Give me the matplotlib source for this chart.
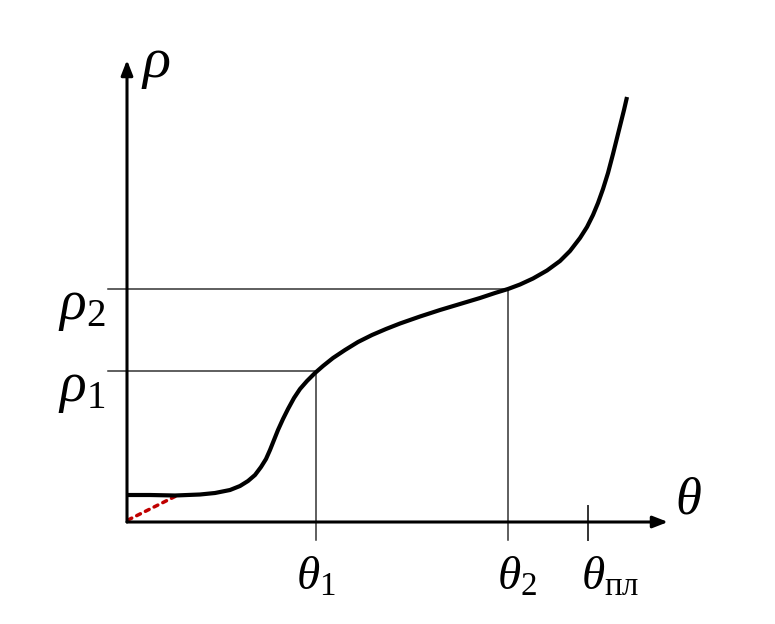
import matplotlib.pyplot as plt

plt.rcParams['mathtext.fontset'] = 'custom'
plt.rcParams['mathtext.rm'] = 'Liberation Serif'
plt.rcParams['mathtext.it'] = 'Liberation Serif:italic'

# curve rho(theta)
theta = [0.00, 0.23, 0.48, 0.73, 0.88, 1.03, 1.13, 1.21, 1.28, 1.34, 1.39,
         1.43, 1.47, 1.51, 1.56, 1.61, 1.67, 1.73, 1.80, 1.88, 1.96, 2.06,
         2.18, 2.31, 2.45, 2.59, 2.73, 2.93, 3.13, 3.33, 3.53, 3.68, 3.81,
         3.93, 4.06, 4.20, 4.33, 4.43, 4.53, 4.60, 4.66, 4.71, 4.76, 4.81,
         4.86, 4.90, 4.93, 4.97, 5.00]
rho = [0.270, 0.270, 0.265, 0.275, 0.290, 0.320, 0.360, 0.410, 0.470, 0.550,
       0.630, 0.720, 0.820, 0.920, 1.030, 1.130, 1.240, 1.330, 1.410, 1.490,
       1.560, 1.640, 1.720, 1.800, 1.870, 1.930, 1.985, 2.055, 2.120, 2.180,
       2.240, 2.290, 2.330, 2.375, 2.435, 2.515, 2.610, 2.710, 2.840, 2.950,
       3.070, 3.190, 3.330, 3.490, 3.680, 3.840, 3.960, 4.120, 4.250]

# dashed extrapolation near the origin
dash_theta = [0.01, 0.51]
dash_rho = [0.02, 0.27]

theta_ticks = [1.89, 3.81, 4.61]
theta_labels = [r'$\theta_1$', r'$\theta_2$', r'$\theta_{\mathrm{пл}}$']
rho_ticks = [1.51, 2.33]
rho_labels = [r'$\rho_1$', r'$\rho_2$']

fig = plt.figure(figsize=(7.75, 6.24), dpi=100)
ax = fig.add_axes([0, 0, 1, 1])
ax.set_xlim(-1.27, 6.48)
ax.set_ylim(-1.02, 5.22)
ax.axis('off')

# axes with arrows
arrow = dict(arrowstyle='-|>,head_length=0.9,head_width=0.35', color='black',
             lw=2.2, shrinkA=0, shrinkB=0)
ax.annotate('', xy=(5.41, 0), xytext=(0, 0), arrowprops=arrow)
ax.annotate('', xy=(0, 4.62), xytext=(0, 0), arrowprops=arrow)
ax.text(5.48, 0.08, r'$\theta$', fontsize=38, ha='left', va='baseline')
ax.text(0.14, 4.45, r'$\rho$', fontsize=42, ha='left', va='baseline')

# guide lines from the curve to the axes
for t, r in zip(theta_ticks[:2], rho_ticks):
    ax.plot([t, t], [r, -0.18], color='#333333', lw=1.1)
    ax.plot([-0.19, t], [r, r], color='#333333', lw=1.1)
ax.plot([theta_ticks[2]] * 2, [0.16, -0.18], color='#333333', lw=1.4)

label_dx = [0.0, 0.09, 0.22]
for t, lab, dx in zip(theta_ticks, theta_labels, label_dx):
    ax.text(t + dx, -0.68, lab, fontsize=34, ha='center', va='baseline')
for r, lab in zip(rho_ticks, rho_labels):
    ax.text(-0.22, r - 0.30, lab, fontsize=40, ha='right', va='baseline')

ax.plot(dash_theta, dash_rho, color='#c00000', lw=2.5, linestyle=(0, (1.2, 1.6)),
        dash_capstyle='round')
ax.plot(theta, rho, color='black', lw=3, solid_capstyle='butt',
        solid_joinstyle='round')

fig.savefig('out.png', dpi=100)
